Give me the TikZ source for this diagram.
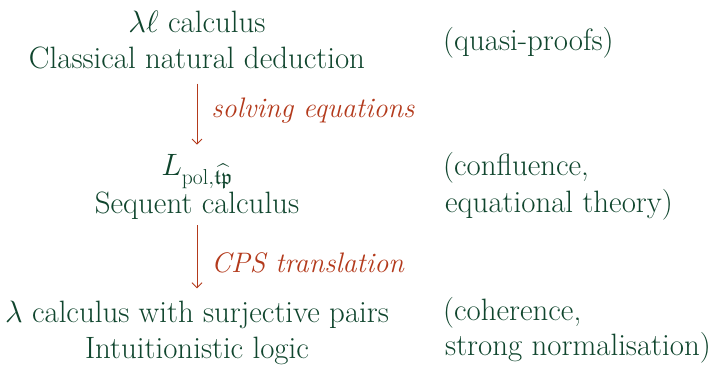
\RequirePackage{fix-cm}
\documentclass[tikz,border=0pt]{standalone}
\usepackage{amssymb}
\usepackage{fontspec}
\usetikzlibrary{arrows.meta}
\definecolor{tgreen}{HTML}{0F452D}
\definecolor{tred}{HTML}{B33A1C}
\begin{document}
\begin{tikzpicture}[x=1bp,y=-1bp,
  txt/.style={inner sep=0pt, anchor=base, text=tgreen, font=\fontsize{31}{36}\selectfont},
  side/.style={txt, anchor=base west},
  lbl/.style={inner sep=0pt, text=tred, font=\fontsize{28.3}{34}\selectfont\itshape},
  arr/.style={draw=tred, line width=0.9bp, -{Straight Barb[length=5bp,width=10bp]}}]
\useasboundingbox (0,0) rectangle (720,364);
\node[txt] (lam) at (197,32) {$\lambda\ell$ calculus};
\node[txt] (cnd) at (197,68) {Classical natural deduction};
\node[side] (qp) at (443,50) {(quasi-proofs)};
\node[txt] (lpol) at (197,175) {$L_{\mathrm{pol},\widehat{\mathfrak{tp}}}$};
\node[txt] (seq) at (197,213) {Sequent calculus};
\node[side] (conf) at (443,175) {(confluence,};
\node[side] (eqt) at (445,212) {equational theory)};
\node[txt] (lsp) at (197,322) {$\lambda$ calculus with surjective pairs};
\node[txt] (int) at (197,358) {Intuitionistic logic};
\node[side] (coh) at (443,320) {(coherence,};
\node[side] (sn) at (445,355) {strong normalisation)};
\draw[arr, shorten <=15bp, shorten >=9bp] (cnd.south) -- node[lbl, right=14bp, yshift=1bp] {solving equations} (lpol.north);
\draw[arr, shorten <=6bp, shorten >=12bp] (seq.south) -- node[lbl, right=14bp, yshift=-3bp] {CPS translation} (lsp.north);
\end{tikzpicture}
\end{document}
